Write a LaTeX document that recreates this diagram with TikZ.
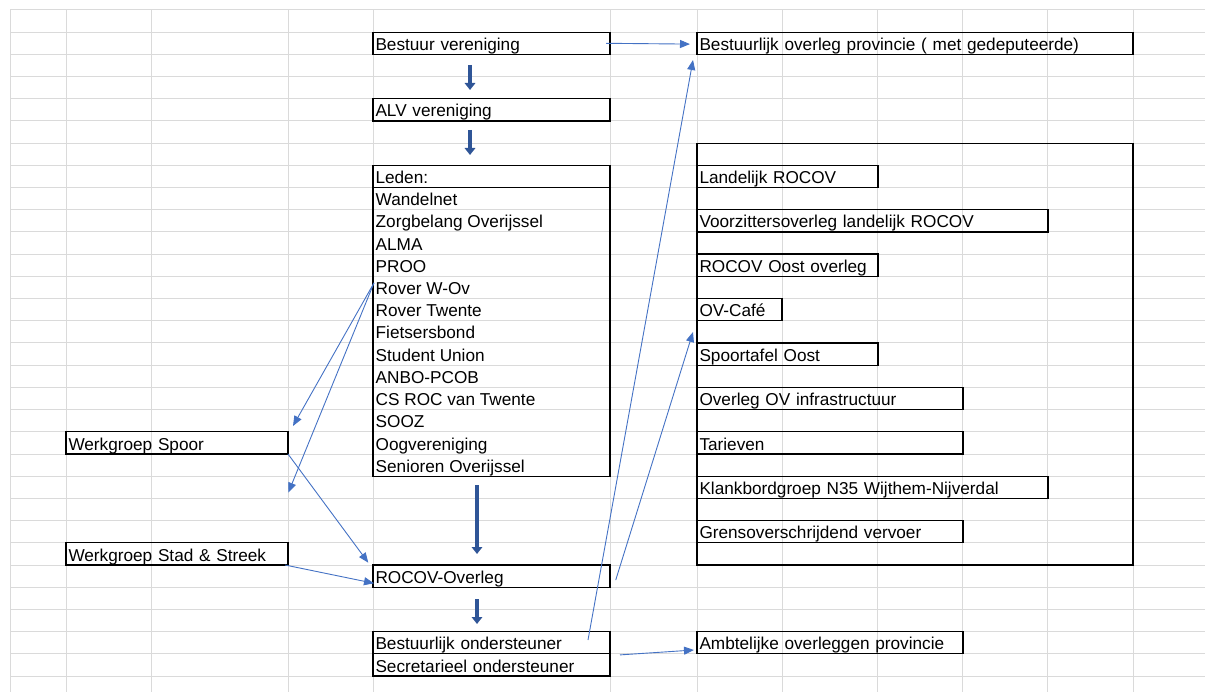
\documentclass[tikz,border=0pt]{standalone}
\usepackage{fontspec}
\setmainfont{Liberation Sans}
\usetikzlibrary{arrows.meta,calc}
\definecolor{gridc}{HTML}{DADADA}
\definecolor{connc}{HTML}{4472C4}
\definecolor{fatc}{HTML}{2F5597}
\begin{document}
\begin{tikzpicture}[x=1pt,y=-1pt,
  gridline/.style={draw=gridc, line width=1pt},
  cell/.style={draw=black, line width=1.1pt, anchor=north west, outer sep=0pt,
    inner xsep=2.5pt, inner ysep=0pt, text height=18.2pt, text depth=4pt,
    align=left, font=\fontsize{17.2}{20}\selectfont},
  frame/.style={draw=black, line width=1.1pt, anchor=north west, outer sep=0pt, inner sep=0pt},
  item/.style={anchor=base west, inner sep=0pt, font=\fontsize{17.2}{20}\selectfont},
  fat/.style={draw=fatc, line width=4pt, -{Triangle[length=7pt,width=10.5pt]}},
  conn/.style={draw=connc, line width=0.9pt, -{Triangle[length=10pt,width=8pt]}}]
\useasboundingbox (0,0) rectangle (1205,692);
% spreadsheet grid
\foreach \k in {0,...,30} \draw[gridline] (10,{10+22.2*\k}) -- (1205,{10+22.2*\k});
\foreach \x in {10,66,151,288,373,610,697,782,877,962,1047.5,1133} \draw[gridline] (\x,10) -- (\x,692);
% central column
\node[cell, text width=232pt] (bv) at (373,32.2) {Bestuur vereniging};
\node[cell, text width=232pt] (alv) at (373,98.8) {ALV vereniging};
\node[cell, text width=232pt] (leden) at (373,165.4) {Leden:};
\node[frame, minimum width=237pt, minimum height=288.6pt] (list) at (373,187.6) {};
\foreach \t [count=\i from 8] in {Wandelnet,Zorgbelang Overijssel,ALMA,PROO,Rover W-Ov,Rover Twente,Fietsersbond,Student Union,ANBO-PCOB,CS ROC van Twente,SOOZ,Oogvereniging,Senioren Overijssel}
  \node[item] (m\i) at (375.5,{10+22.2*(\i+1)-4}) {\t};
\node[cell, text width=232pt] (rocov) at (373,565) {ROCOV-Overleg};
\node[cell, text width=232pt] (bond) at (373,631.6) {Bestuurlijk ondersteuner};
\node[cell, text width=232pt] (sec) at (373,653.8) {Secretarieel ondersteuner};
% left column
\node[cell, text width=217pt] (ws) at (66,431.8) {Werkgroep Spoor};
\node[cell, text width=217pt] (wss) at (66,542.8) {Werkgroep Stad \& Streek};
% right column
\node[cell, text width=431pt] (bop) at (697,32.2) {Bestuurlijk overleg provincie ( met gedeputeerde)};
\node[frame, minimum width=436pt, minimum height=421.8pt] (forum) at (697,143.2) {};
\node[cell, text width=176pt] (r1) at (697,165.4) {Landelijk ROCOV};
\node[cell, text width=346pt] (r2) at (697,209.8) {Voorzittersoverleg landelijk ROCOV};
\node[cell, text width=176pt] (r3) at (697,254) {ROCOV Oost overleg};
\node[cell, text width=80pt] (r4) at (697,298.6) {OV-Café};
\node[cell, text width=176pt] (r5) at (697,343) {Spoortafel Oost};
\node[cell, text width=261pt] (r6) at (697,387.4) {Overleg OV infrastructuur};
\node[cell, text width=261pt] (r7) at (697,431.8) {Tarieven};
\node[cell, text width=346pt] (r8) at (697,476.2) {Klankbordgroep N35 Wijthem-Nijverdal};
\node[cell, text width=261pt] (r9) at (697,520.6) {Grensoverschrijdend vervoer};
\node[cell, text width=261pt] (amb) at (697,631.6) {Ambtelijke overleggen provincie};
% thick down arrows
\draw[fat] ($(bv.south)+(-21.5,10.6)$) -- ($(alv.north)+(-21.5,-8.8)$);
\draw[fat] ($(alv.south)+(-21.5,9)$) -- ($(leden.north)+(-21.5,-10.4)$);
\draw[fat] ($(list.south)+(-14.5,8.8)$) -- ($(rocov.north)+(-14.5,-11)$);
\draw[fat] ($(rocov.south)+(-14.5,11.8)$) -- ($(bond.north)+(-14.5,-7.6)$);
% thin connectors
\coordinate (t1) at (293,426);
\coordinate (t2) at (288.3,492.7);
\draw[conn] ($(bv.east)+(-4,0)$) -- ($(bop.west)+(-7,0.8)$);
\draw[conn] ($(bond.east)+(-22,-2.7)$) -- ($(bop.south west)+(-4,5.6)$);
\draw[conn] ($(rocov.east)+(5.7,4)$) -- ($(r5.north west)+(-4,-11)$);
\draw[conn] ($(sec.east)+(10,-10)$) -- ($(amb.west)+(-3,7.3)$);
\draw[conn] ($(m12.north west)+(-1.5,0.5)$) -- (t1);
\draw[conn] ($(m12.north west)+(-1.5,0.5)$) -- (t2);
\draw[conn] (ws.south east) -- ($(rocov.north west)+(-4.7,-2.3)$);
\draw[conn] ($(wss.south east)+(-3,0)$) -- ($(rocov.west)+(1,7.2)$);
\end{tikzpicture}
\end{document}
